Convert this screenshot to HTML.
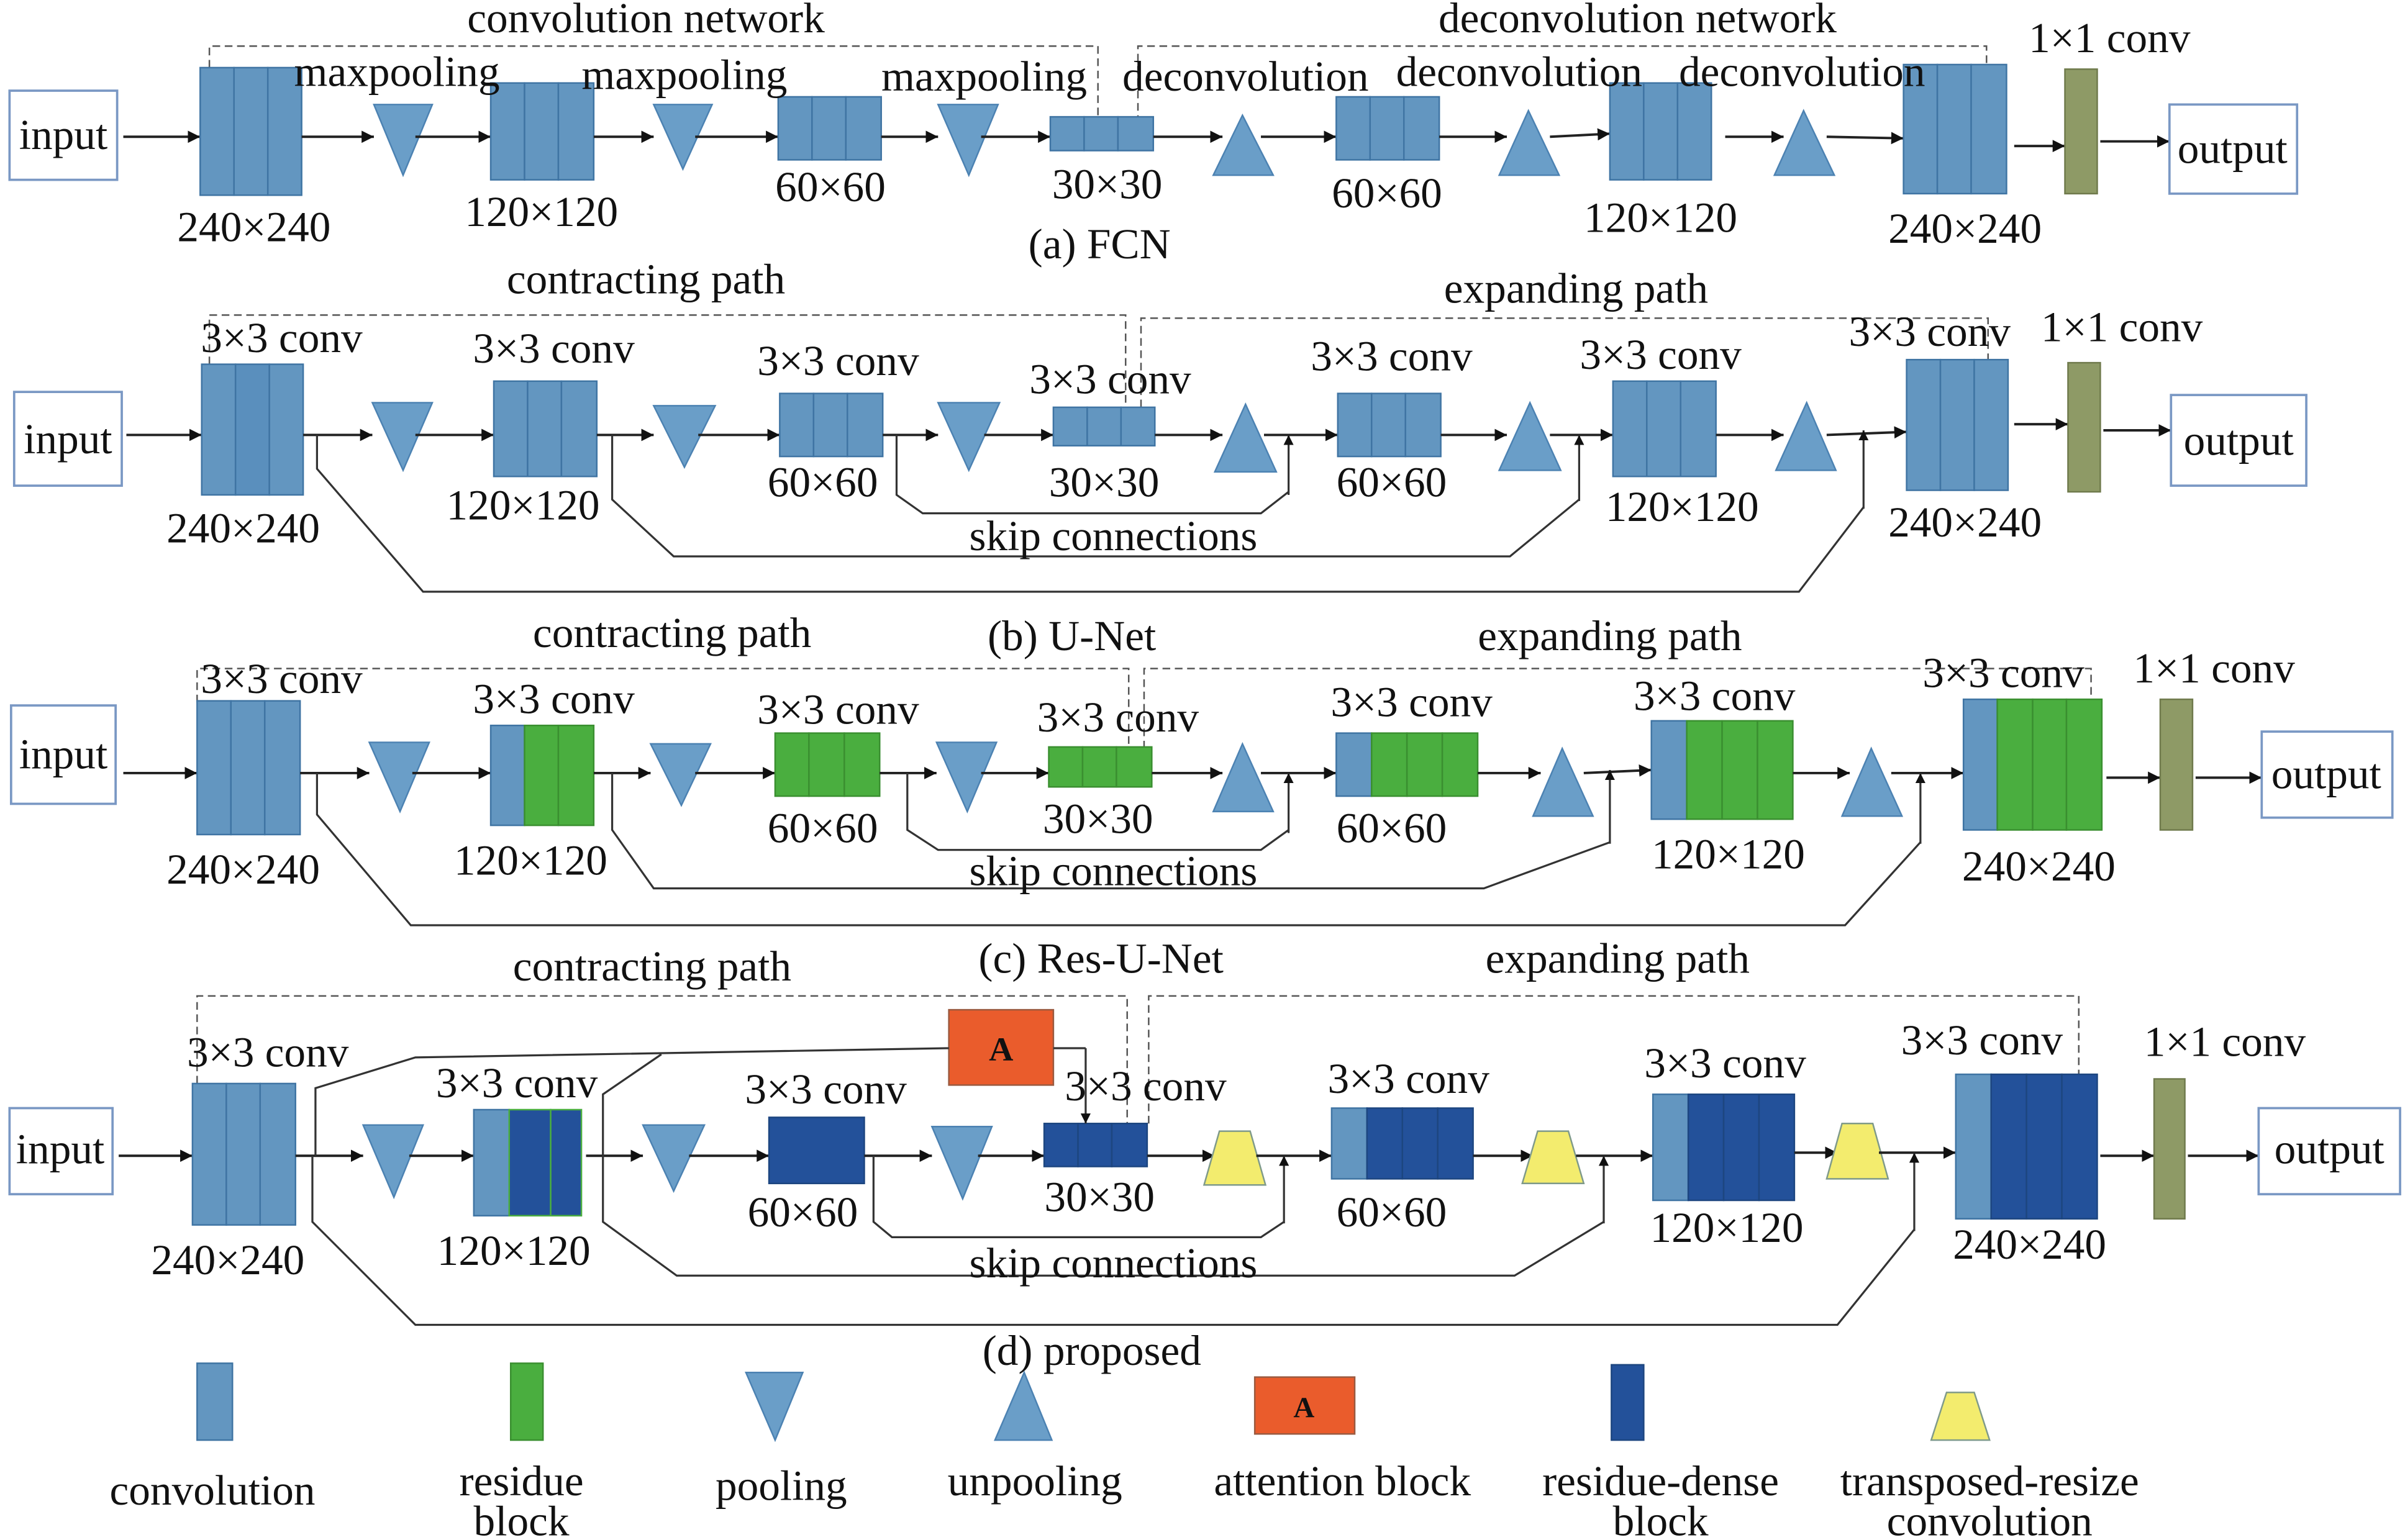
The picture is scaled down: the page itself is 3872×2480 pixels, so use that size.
<!DOCTYPE html>
<html><head><meta charset="utf-8"><style>html,body{margin:0;padding:0;background:#fff}svg{display:block}text{font-family:"Liberation Serif",serif;font-size:28px;fill:#111;text-anchor:middle}</style></head><body>
<svg width="3872" height="2480" viewBox="0 0 1564 1002" xmlns="http://www.w3.org/2000/svg">
<defs><marker id="ar" viewBox="0 0 10 10" refX="10" refY="5" markerWidth="5" markerHeight="5" orient="auto"><path d="M0,0L10,5L0,10z" fill="#111"/></marker></defs>
<style>.L{fill:#6396c0;stroke:#3f74a3;stroke-width:1}.D{fill:#23519a;stroke:#1d4680;stroke-width:1}.G{fill:#4aae3f;stroke:#3a8f30;stroke-width:1}.O{fill:#8e9a66;stroke:#6f7a4c}.Y{fill:#f3ec6e;stroke:#7f9a8a}.T{fill:#6a9ec8;stroke:#4c82b2}.box{fill:#fff;stroke:#7a98c4;stroke-width:1.5}.a{stroke:#222;stroke-width:1.6;fill:none;marker-end:url(#ar)}.s{stroke:#333;stroke-width:1.3;fill:none}.sa{stroke:#333;stroke-width:1.3;fill:none;marker-end:url(#ar)}.d{stroke:#555;stroke-width:1;fill:none;stroke-dasharray:5,3}</style>

<!-- ===== (a) FCN ===== -->
<path class="d" d="M136,44V30H714V80M740,80V30H1292V42"/>
<rect class="box" x="6" y="59" width="70" height="58"/><text x="41" y="97">input</text>
<line class="a" x1="80" y1="89" x2="130" y2="89"/>
<rect class="L" x="130" y="44" width="22" height="83"/><rect class="L" x="152" y="44" width="22" height="83"/><rect class="L" x="174" y="44" width="22" height="83"/>
<line class="a" x1="196" y1="89" x2="243" y2="89"/>
<polygon class="T" points="243,68 281,68 262,114"/>
<line class="a" x1="270" y1="89" x2="319" y2="89"/>
<rect class="L" x="319" y="54" width="22" height="63"/><rect class="L" x="341" y="54" width="22" height="63"/><rect class="L" x="363" y="54" width="23" height="63"/>
<line class="a" x1="386" y1="89" x2="425" y2="89"/>
<polygon class="T" points="425,68 463,68 444,110"/>
<line class="a" x1="452" y1="89" x2="506" y2="89"/>
<rect class="L" x="506" y="63" width="22" height="41"/><rect class="L" x="528" y="63" width="22" height="41"/><rect class="L" x="550" y="63" width="23" height="41"/>
<line class="a" x1="573" y1="89" x2="610" y2="89"/>
<polygon class="T" points="610,68 649,68 630,114"/>
<line class="a" x1="638" y1="89" x2="683" y2="89"/>
<rect class="L" x="683" y="76" width="22" height="22"/><rect class="L" x="705" y="76" width="22" height="22"/><rect class="L" x="727" y="76" width="23" height="22"/>
<line class="a" x1="750" y1="89" x2="795" y2="89"/>
<polygon class="T" points="789,114 828,114 808,75"/>
<line class="a" x1="820" y1="89" x2="869" y2="89"/>
<rect class="L" x="869" y="63" width="22" height="41"/><rect class="L" x="891" y="63" width="22" height="41"/><rect class="L" x="913" y="63" width="23" height="41"/>
<line class="a" x1="936" y1="89" x2="980" y2="89"/>
<polygon class="T" points="975,114 1014,114 994,72"/>
<line class="a" x1="1008" y1="89" x2="1047" y2="87"/>
<rect class="L" x="1047" y="54" width="22" height="63"/><rect class="L" x="1069" y="54" width="22" height="63"/><rect class="L" x="1091" y="54" width="22" height="63"/>
<line class="a" x1="1122" y1="89" x2="1160" y2="89"/>
<polygon class="T" points="1154,114 1193,114 1173,72"/>
<line class="a" x1="1188" y1="89" x2="1238" y2="90"/>
<rect class="L" x="1238" y="42" width="22" height="84"/><rect class="L" x="1260" y="42" width="22" height="84"/><rect class="L" x="1282" y="42" width="23" height="84"/>
<line class="a" x1="1310" y1="95" x2="1343" y2="95"/>
<rect class="O" x="1343" y="45" width="21" height="81"/>
<line class="a" x1="1366" y1="92" x2="1411" y2="92"/>
<rect class="box" x="1411" y="68" width="83" height="58"/><text x="1452" y="106">output</text>
<text x="420" y="21">convolution network</text><text x="1065" y="21">deconvolution network</text>
<text x="258" y="56">maxpooling</text><text x="445" y="58">maxpooling</text><text x="640" y="59">maxpooling</text>
<text x="810" y="59">deconvolution</text><text x="988" y="56">deconvolution</text><text x="1172" y="56">deconvolution</text>
<text x="1372" y="34">1×1 conv</text>
<text x="165" y="157">240×240</text><text x="352" y="147">120×120</text><text x="540" y="131">60×60</text><text x="720" y="129">30×30</text><text x="902" y="135">60×60</text><text x="1080" y="151">120×120</text><text x="1278" y="158">240×240</text>
<text x="715" y="168">(a) FCN</text>

<!-- ===== (b) U-Net ===== -->
<path class="d" d="M136,237V205H732V265M742,265V207H1293V234"/>
<rect class="box" x="9" y="255" width="70" height="61"/><text x="44" y="295">input</text>
<line class="a" x1="82" y1="283" x2="131" y2="283"/>
<rect class="L" x="131" y="237" width="22" height="85"/><rect class="L" x="153" y="237" width="22" height="85" style="fill:#5a8fbd"/><rect class="L" x="175" y="237" width="22" height="85"/>
<line class="a" x1="197" y1="283" x2="242" y2="283"/>
<polygon class="T" points="242,262 281,262 262,306"/>
<line class="a" x1="270" y1="283" x2="321" y2="283"/>
<rect class="L" x="321" y="248" width="22" height="62"/><rect class="L" x="343" y="248" width="22" height="62"/><rect class="L" x="365" y="248" width="23" height="62"/>
<line class="a" x1="388" y1="283" x2="425" y2="283"/>
<polygon class="T" points="425,264 465,264 445,304"/>
<line class="a" x1="454" y1="283" x2="507" y2="283"/>
<rect class="L" x="507" y="256" width="22" height="41"/><rect class="L" x="529" y="256" width="22" height="41"/><rect class="L" x="551" y="256" width="23" height="41"/>
<line class="a" x1="574" y1="283" x2="610" y2="283"/>
<polygon class="T" points="610,262 650,262 630,306"/>
<line class="a" x1="640" y1="283" x2="685" y2="283"/>
<rect class="L" x="685" y="265" width="22" height="25"/><rect class="L" x="707" y="265" width="22" height="25"/><rect class="L" x="729" y="265" width="22" height="25"/>
<line class="a" x1="751" y1="283" x2="795" y2="283"/>
<polygon class="T" points="790,307 830,307 810,263"/>
<line class="a" x1="822" y1="283" x2="870" y2="283"/>
<rect class="L" x="870" y="256" width="22" height="41"/><rect class="L" x="892" y="256" width="22" height="41"/><rect class="L" x="914" y="256" width="23" height="41"/>
<line class="a" x1="937" y1="283" x2="980" y2="283"/>
<polygon class="T" points="975,306 1015,306 995,262"/>
<line class="a" x1="1008" y1="283" x2="1049" y2="283"/>
<rect class="L" x="1049" y="248" width="22" height="62"/><rect class="L" x="1071" y="248" width="22" height="62"/><rect class="L" x="1093" y="248" width="23" height="62"/>
<line class="a" x1="1116" y1="283" x2="1160" y2="283"/>
<polygon class="T" points="1155,306 1194,306 1175,262"/>
<line class="a" x1="1188" y1="283" x2="1240" y2="281"/>
<rect class="L" x="1240" y="234" width="22" height="85"/><rect class="L" x="1262" y="234" width="22" height="85"/><rect class="L" x="1284" y="234" width="22" height="85"/>
<line class="a" x1="1310" y1="276" x2="1345" y2="276"/>
<rect class="O" x="1345" y="236" width="21" height="84"/>
<line class="a" x1="1368" y1="280" x2="1412" y2="280"/>
<rect class="box" x="1412" y="257" width="88" height="59"/><text x="1456" y="296">output</text>
<path class="s" d="M583,283V322L600,334H820L838,320"/><line class="sa" x1="838" y1="322" x2="838" y2="283"/>
<path class="s" d="M398,283V325L438,362H982L1027,325"/><line class="sa" x1="1027" y1="326" x2="1027" y2="283"/>
<path class="s" d="M206,283V305L275,385H1170L1212,330"/><line class="sa" x1="1212" y1="331" x2="1212" y2="280"/>
<text x="420" y="191">contracting path</text><text x="1025" y="197">expanding path</text>
<text x="183" y="229">3×3 conv</text><text x="360" y="236">3×3 conv</text><text x="545" y="244">3×3 conv</text><text x="722" y="256">3×3 conv</text><text x="905" y="241">3×3 conv</text><text x="1080" y="240">3×3 conv</text><text x="1255" y="225">3×3 conv</text><text x="1380" y="222">1×1 conv</text>
<text x="158" y="353">240×240</text><text x="340" y="338">120×120</text><text x="535" y="323">60×60</text><text x="718" y="323">30×30</text><text x="905" y="323">60×60</text><text x="1094" y="339">120×120</text><text x="1278" y="349">240×240</text>
<text x="724" y="358">skip connections</text><text x="697" y="423">(b) U-Net</text>

<!-- ===== (c) Res-U-Net ===== -->
<path class="d" d="M128,457V435H734V487M744,487V435H1360V455"/>
<rect class="box" x="7" y="459" width="68" height="64"/><text x="41" y="500">input</text>
<line class="a" x1="80" y1="503" x2="128" y2="503"/>
<rect class="L" x="128" y="456" width="22" height="87"/><rect class="L" x="150" y="456" width="22" height="87"/><rect class="L" x="172" y="456" width="23" height="87"/>
<line class="a" x1="195" y1="503" x2="240" y2="503"/>
<polygon class="T" points="240,483 279,483 260,528"/>
<line class="a" x1="268" y1="503" x2="319" y2="503"/>
<rect class="L" x="319" y="472" width="22" height="65"/><rect class="G" x="341" y="472" width="22" height="65"/><rect class="G" x="363" y="472" width="23" height="65"/>
<line class="a" x1="386" y1="503" x2="423" y2="503"/>
<polygon class="T" points="423,484 462,484 443,524"/>
<line class="a" x1="452" y1="503" x2="504" y2="503"/>
<rect class="G" x="504" y="477" width="22" height="41"/><rect class="G" x="526" y="477" width="23" height="41"/><rect class="G" x="549" y="477" width="23" height="41"/>
<line class="a" x1="572" y1="503" x2="609" y2="503"/>
<polygon class="T" points="609,483 648,483 629,528"/>
<line class="a" x1="638" y1="503" x2="682" y2="503"/>
<rect class="G" x="682" y="486" width="22" height="26"/><rect class="G" x="704" y="486" width="22" height="26"/><rect class="G" x="726" y="486" width="23" height="26"/>
<line class="a" x1="749" y1="503" x2="795" y2="503"/>
<polygon class="T" points="789,528 828,528 808,484"/>
<line class="a" x1="820" y1="503" x2="869" y2="503"/>
<rect class="L" x="869" y="477" width="23" height="41"/><rect class="G" x="892" y="477" width="23" height="41"/><rect class="G" x="915" y="477" width="23" height="41"/><rect class="G" x="938" y="477" width="23" height="41"/>
<line class="a" x1="961" y1="503" x2="1002" y2="503"/>
<polygon class="T" points="997,531 1036,531 1016,487"/>
<line class="a" x1="1030" y1="503" x2="1074" y2="501"/>
<rect class="L" x="1074" y="469" width="23" height="64"/><rect class="G" x="1097" y="469" width="23" height="64"/><rect class="G" x="1120" y="469" width="23" height="64"/><rect class="G" x="1143" y="469" width="23" height="64"/>
<line class="a" x1="1166" y1="503" x2="1203" y2="503"/>
<polygon class="T" points="1198,531 1237,531 1217,487"/>
<line class="a" x1="1230" y1="503" x2="1277" y2="503"/>
<rect class="L" x="1277" y="455" width="22" height="85"/><rect class="G" x="1299" y="455" width="23" height="85"/><rect class="G" x="1322" y="455" width="22" height="85"/><rect class="G" x="1344" y="455" width="23" height="85"/>
<line class="a" x1="1370" y1="506" x2="1405" y2="506"/>
<rect class="O" x="1405" y="455" width="21" height="85"/>
<line class="a" x1="1428" y1="506" x2="1471" y2="506"/>
<rect class="box" x="1471" y="476" width="85" height="56"/><text x="1513" y="513">output</text>
<path class="s" d="M590,503V540L610,553H820L838,540"/><line class="sa" x1="838" y1="542" x2="838" y2="503"/>
<path class="s" d="M398,503V540L425,578H965L1047,548"/><line class="sa" x1="1047" y1="549" x2="1047" y2="501"/>
<path class="s" d="M206,503V530L267,602H1200L1249,548"/><line class="sa" x1="1249" y1="549" x2="1249" y2="503"/>
<text x="437" y="421">contracting path</text><text x="1047" y="423">expanding path</text>
<text x="183" y="451">3×3 conv</text><text x="360" y="464">3×3 conv</text><text x="545" y="471">3×3 conv</text><text x="727" y="476">3×3 conv</text><text x="918" y="466">3×3 conv</text><text x="1115" y="462">3×3 conv</text><text x="1303" y="447">3×3 conv</text><text x="1440" y="444">1×1 conv</text>
<text x="158" y="575">240×240</text><text x="345" y="569">120×120</text><text x="535" y="548">60×60</text><text x="714" y="542">30×30</text><text x="905" y="548">60×60</text><text x="1124" y="565">120×120</text><text x="1326" y="573">240×240</text>
<text x="724" y="576">skip connections</text><text x="716" y="633">(c) Res-U-Net</text>

<!-- ===== (d) proposed ===== -->
<path class="d" d="M128,705V648H733V731M747,731V648H1352V699"/>
<rect class="box" x="6" y="721" width="67" height="56"/><text x="39" y="757">input</text>
<line class="a" x1="77" y1="752" x2="125" y2="752"/>
<rect class="L" x="125" y="705" width="22" height="92"/><rect class="L" x="147" y="705" width="22" height="92"/><rect class="L" x="169" y="705" width="23" height="92"/>
<line class="a" x1="192" y1="752" x2="236" y2="752"/>
<polygon class="T" points="236,732 275,732 256,779"/>
<line class="a" x1="266" y1="752" x2="308" y2="752"/>
<rect class="L" x="308" y="722" width="23" height="69"/><rect class="D" x="331" y="722" width="27" height="69" style="stroke:#4aae3f"/><rect class="D" x="358" y="722" width="20" height="69" style="stroke:#4aae3f"/>
<line class="a" x1="381" y1="752" x2="418" y2="752"/>
<polygon class="T" points="418,732 458,732 438,775"/>
<line class="a" x1="448" y1="752" x2="500" y2="752"/>
<rect class="D" x="500" y="727" width="62" height="43"/>
<line class="a" x1="562" y1="752" x2="606" y2="752"/>
<polygon class="T" points="606,733 645,733 626,780"/>
<line class="a" x1="636" y1="752" x2="679" y2="752"/>
<rect class="D" x="679" y="731" width="22" height="28"/><rect class="D" x="701" y="731" width="22" height="28"/><rect class="D" x="723" y="731" width="23" height="28"/>
<line class="a" x1="746" y1="752" x2="790" y2="752"/>
<polygon class="Y" points="793,736 813,736 823,771 783,771"/>
<line class="a" x1="817" y1="752" x2="866" y2="752"/>
<rect class="L" x="866" y="721" width="23" height="46"/><rect class="D" x="889" y="721" width="23" height="46"/><rect class="D" x="912" y="721" width="23" height="46"/><rect class="D" x="935" y="721" width="23" height="46"/>
<line class="a" x1="958" y1="752" x2="997" y2="752"/>
<polygon class="Y" points="1000,736 1020,736 1030,770 990,770"/>
<line class="a" x1="1025" y1="752" x2="1075" y2="752"/>
<rect class="L" x="1075" y="712" width="23" height="69"/><rect class="D" x="1098" y="712" width="23" height="69"/><rect class="D" x="1121" y="712" width="23" height="69"/><rect class="D" x="1144" y="712" width="23" height="69"/>
<line class="a" x1="1167" y1="750" x2="1195" y2="750"/>
<polygon class="Y" points="1198,731 1218,731 1228,767 1188,767"/>
<line class="a" x1="1222" y1="750" x2="1272" y2="750"/>
<rect class="L" x="1272" y="699" width="23" height="94"/><rect class="D" x="1295" y="699" width="23" height="94"/><rect class="D" x="1318" y="699" width="23" height="94"/><rect class="D" x="1341" y="699" width="23" height="94"/>
<line class="a" x1="1366" y1="752" x2="1401" y2="752"/>
<rect class="O" x="1401" y="702" width="20" height="91"/>
<line class="a" x1="1423" y1="752" x2="1469" y2="752"/>
<rect class="box" x="1469" y="721" width="92" height="56"/><text x="1515" y="757">output</text>
<rect x="617" y="657" width="68" height="49" fill="#ea5c2c" stroke="#9a5a40"/><text x="651" y="690" style="font-weight:bold;font-size:22px">A</text>
<path class="s" d="M205,752V708L270,688L617,682"/>
<path class="s" d="M392,752V712L430,686"/>
<path class="s" d="M685,682H706"/><line class="sa" x1="706" y1="682" x2="706" y2="731"/>
<path class="s" d="M568,752V795L580,805H820L835,795"/><line class="sa" x1="835" y1="796" x2="835" y2="752"/>
<path class="s" d="M392,752V795L440,830H985L1043,795"/><line class="sa" x1="1043" y1="796" x2="1043" y2="752"/>
<path class="s" d="M203,752V795L270,862H1195L1245,800"/><line class="sa" x1="1245" y1="801" x2="1245" y2="750"/>
<text x="424" y="638">contracting path</text><text x="1052" y="633">expanding path</text>
<text x="174" y="694">3×3 conv</text><text x="336" y="714">3×3 conv</text><text x="537" y="718">3×3 conv</text><text x="745" y="716">3×3 conv</text><text x="916" y="711">3×3 conv</text><text x="1122" y="701">3×3 conv</text><text x="1289" y="686">3×3 conv</text><text x="1447" y="687">1×1 conv</text>
<text x="148" y="829">240×240</text><text x="334" y="823">120×120</text><text x="522" y="798">60×60</text><text x="715" y="788">30×30</text><text x="905" y="798">60×60</text><text x="1123" y="808">120×120</text><text x="1320" y="819">240×240</text>
<text x="724" y="831">skip connections</text><text x="710" y="888">(d) proposed</text>

<!-- ===== legend ===== -->
<rect class="L" x="128" y="887" width="23" height="50"/><text x="138" y="979">convolution</text>
<rect class="G" x="332" y="887" width="21" height="50"/><text x="339" y="973">residue</text><text x="339" y="999">block</text>
<polygon class="T" points="485,893 522,893 504,937"/><text x="508" y="976">pooling</text>
<polygon class="T" points="647,937 684,937 666,893"/><text x="673" y="973">unpooling</text>
<rect x="816" y="896" width="65" height="37" fill="#ea5c2c" stroke="#9a5a40"/><text x="848" y="922" style="font-weight:bold;font-size:19px">A</text><text x="873" y="973">attention block</text>
<rect class="D" x="1048" y="888" width="21" height="49"/><text x="1080" y="973">residue-dense</text><text x="1080" y="999">block</text>
<polygon class="Y" points="1266,906 1284,906 1294,937 1256,937"/><text x="1294" y="973">transposed-resize</text><text x="1294" y="999">convolution</text>
</svg>
</body></html>
